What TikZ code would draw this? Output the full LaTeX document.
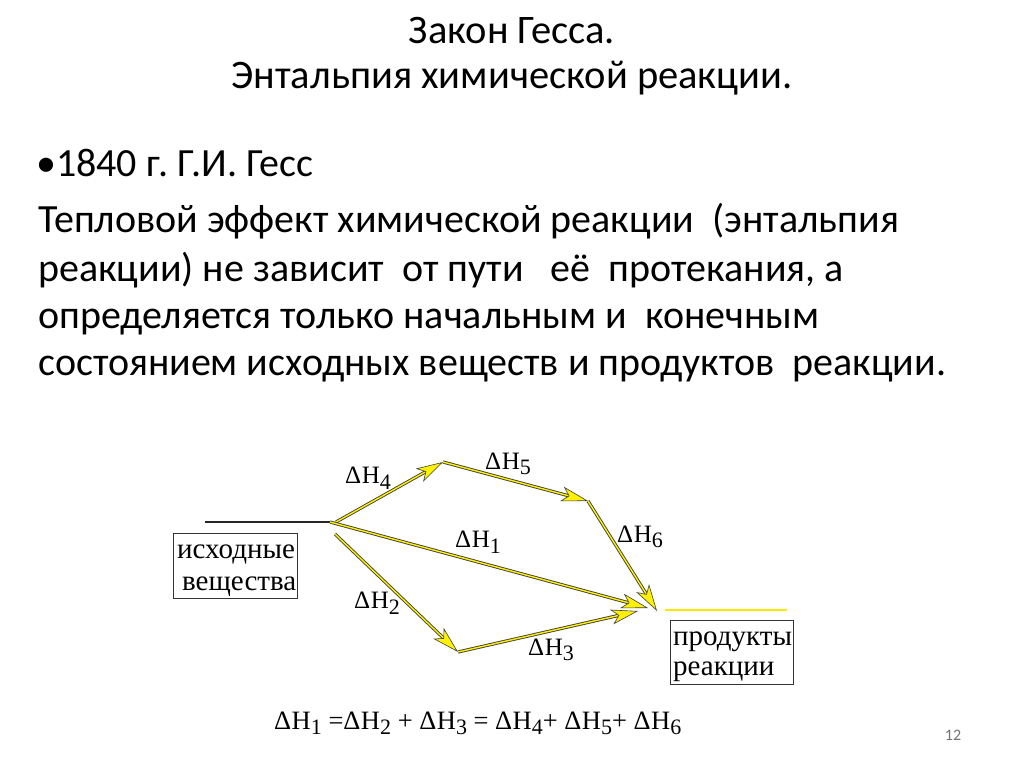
\documentclass[tikz,border=0pt]{standalone}
\usepackage{fontspec}
\setmainfont{Carlito}
\newfontfamily\tms{Liberation Serif}
\usetikzlibrary{arrows.meta}
\frenchspacing
\newcommand\dH[1]{Δ\kern0.5ptH{\fontsize{22}{22}\selectfont\raisebox{-5.5pt}{#1}}}
\begin{document}
\begin{tikzpicture}[x=1pt,y=-1pt,
  harrow/.style={line width=1.4pt, color=yellow,
    -{Stealth[length=27pt,width=15pt,inset=7pt,color=black!75,fill=yellow,line width=0.6pt]},
    preaction={draw=black!75, line width=3.2pt, -, shorten >=20pt}},
  lbl/.style={font=\tms\fontsize{25}{25}\selectfont, inner sep=0pt},
  body/.style={font=\fontsize{40}{48}\selectfont, anchor=base west, inner sep=0pt},
  ttl/.style={font=\fontsize{40.5}{48}\selectfont, anchor=base, inner sep=0pt},
  boxtxt/.style={font=\tms\fontsize{29}{31}\selectfont, anchor=base west, inner sep=0pt},
  box/.style={draw=black!80, line width=0.8pt, inner sep=0pt}]
\useasboundingbox (0,0) rectangle (1024,767);
\fill[white] (0,0) rectangle (1024,767);
% title
\node[ttl] (t1) at (512,44) {Закон Гесса.};
\node[ttl] (t2) at (512,89) {Энтальпия химической реакции.};
% body
\node[body] (b0) at (36,177) {•1840 г. Г.И. Гесс};
\node[body] (b1) at (38,233) {Тепловой эффект химической реакции\ \ (энтальпия};
\node[body] (b2) at (38,281) {реакции) не зависит\ \ от пути\ \ \ её\ \ протекания, а};
\node[body] (b3) at (38,328) {определяется только начальным и\ \ конечным};
\node[body] (b4) at (38,375) {состоянием исходных веществ и продуктов\ \ реакции.};
% diagram points
\coordinate (L0) at (205,522);
\coordinate (J) at (330,522);
\coordinate (J4) at (336,522);
\coordinate (A) at (443,462);
\coordinate (B) at (588,501);
\coordinate (P6) at (657,611);
\coordinate (P1) at (648,608);
\coordinate (S2) at (335,534);
\coordinate (C) at (458,652);
\coordinate (P3) at (638,611);
\coordinate (Y0) at (665,610);
\coordinate (Y1) at (787,610);
\draw[black!85, line width=1.3pt] (L0) -- (J);
\draw[harrow] (J4) -- (A);
\draw[harrow] (A) -- (B);
\draw[harrow] (B) -- (P6);
\draw[harrow] (J) -- (P1);
\draw[harrow] (S2) -- (C);
\draw[harrow] (C) -- (P3);
\draw[yellow!90!orange, line width=2.5pt] (Y0) -- (Y1);
% boxes
\node[box, minimum width=124pt, minimum height=65pt] (src) at (235,565.5) {};
\node[boxtxt] (s1) at (177,558) {исходные};
\node[boxtxt] (s2) at (182,590) {вещества};
\node[box, minimum width=123pt, minimum height=64pt] (dst) at (731.5,652) {};
\node[boxtxt] (d1) at (673,645) {продукты};
\node[boxtxt] (d2) at (673,675) {реакции};
% labels
\node[lbl] (l4) at (368,478) {\dH{4}};
\node[lbl] (l5) at (508,464) {\dH{5}};
\node[lbl] (l1) at (478,542) {\dH{1}};
\node[lbl] (l6) at (640,537) {\dH{6}};
\node[lbl] (l2) at (377,603) {\dH{2}};
\node[lbl] (l3) at (551,650) {\dH{3}};
% equation
\node[lbl, font=\tms\fontsize{26.5}{26.5}\selectfont, anchor=base west] (eq) at (274,729) {\dH{1} =\dH{2} + \dH{3} = \dH{4}+ \dH{5}+ \dH{6}};
\node[font=\fontsize{16}{16}\selectfont, text=black!55, inner sep=0pt] (pg) at (953,735) {12};
\end{tikzpicture}
\end{document}
